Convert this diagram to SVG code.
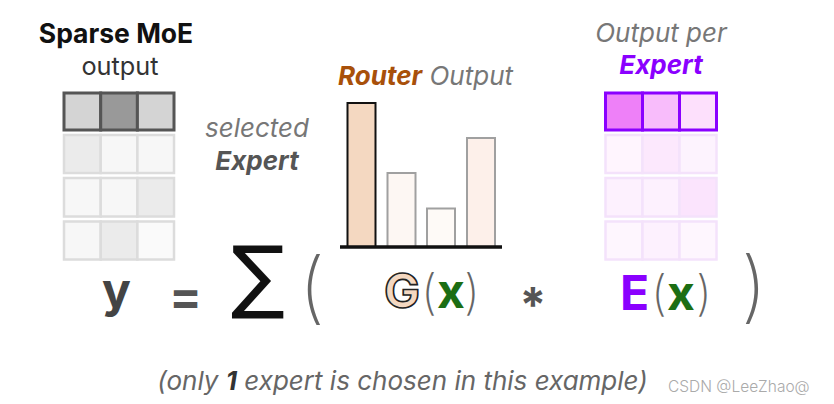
<svg xmlns="http://www.w3.org/2000/svg" width="834" height="404" viewBox="0 0 834 404">
<style>
text{font-family:Inter,"Noto Sans","DejaVu Sans",sans-serif}
.it{font-style:italic}
.b{font-weight:700}
.lc{stroke:#555;stroke-width:3}
.lr{stroke:#dcdcdc;stroke-width:2.5}
.rc{stroke:#8a00ff;stroke-width:3}
.rr{stroke:#f4e2fb;stroke-width:2.5}
.eq{font-size:48px;font-weight:700}
.par{font-weight:200;fill:#666}
</style>
<rect width="834" height="404" fill="#fff"/>
<g id="sparse-moe-output">
<text x="116" y="43" text-anchor="middle" class="b" font-size="26.5" fill="#111">Sparse MoE</text>
<text x="120" y="75" text-anchor="middle" font-size="25.3" fill="#333">output</text>
<g class="lr">
<rect x="64" y="135" width="36.7" height="38" fill="#ebebeb"/>
<rect x="100.7" y="135" width="36.7" height="38" fill="#f7f7f7"/>
<rect x="137.4" y="135" width="36.6" height="38" fill="#f7f7f7"/>
<rect x="64" y="178" width="36.7" height="38.5" fill="#f7f7f7"/>
<rect x="100.7" y="178" width="36.7" height="38.5" fill="#f7f7f7"/>
<rect x="137.4" y="178" width="36.6" height="38.5" fill="#ebebeb"/>
<rect x="64" y="221.5" width="36.7" height="38" fill="#f7f7f7"/>
<rect x="100.7" y="221.5" width="36.7" height="38" fill="#ebebeb"/>
<rect x="137.4" y="221.5" width="36.6" height="38" fill="#fafafa"/>
</g>
<g class="lc">
<rect x="64" y="93" width="36.7" height="37" fill="#d4d4d4"/>
<rect x="100.7" y="93" width="36.7" height="37" fill="#999"/>
<rect x="137.4" y="93" width="36.6" height="37" fill="#d4d4d4"/>
</g>
</g>
<g id="selected-expert">
<text x="257" y="137" text-anchor="middle" class="it" font-size="26" fill="#777">selected</text>
<text x="257" y="170" text-anchor="middle" class="it b" font-size="26" fill="#555">Expert</text>
</g>
<g id="router-output">
<text x="338" y="85" font-size="26" class="it"><tspan class="b" fill="#a8500a">Router</tspan><tspan fill="#777"> Output</tspan></text>
<rect x="347.5" y="103" width="28" height="144" fill="#f4d8c1" stroke="#111" stroke-width="2"/>
<rect x="387.5" y="173" width="28" height="74" fill="#fdf7f3" stroke="#a0a0a0" stroke-width="2"/>
<rect x="427" y="208.5" width="28" height="38.5" fill="#fefaf7" stroke="#a0a0a0" stroke-width="2"/>
<rect x="467" y="138" width="28" height="109" fill="#fdf0ea" stroke="#a0a0a0" stroke-width="2"/>
<line x1="340" y1="247" x2="502" y2="247" stroke="#111" stroke-width="3.5"/>
</g>
<g id="output-per-expert">
<text x="661" y="42" text-anchor="middle" class="it" font-size="26" fill="#777">Output per</text>
<text x="661" y="74" text-anchor="middle" class="it b" font-size="26" fill="#8a00ff">Expert</text>
<g class="rr">
<rect x="605.5" y="135" width="37" height="38" fill="#fff5fe"/>
<rect x="642.5" y="135" width="37" height="38" fill="#fce8fd"/>
<rect x="679.5" y="135" width="37" height="38" fill="#fdf3fe"/>
<rect x="605.5" y="178" width="37" height="38.5" fill="#fdf1fe"/>
<rect x="642.5" y="178" width="37" height="38.5" fill="#fdf1fe"/>
<rect x="679.5" y="178" width="37" height="38.5" fill="#fbe4fd"/>
<rect x="605.5" y="221.5" width="37" height="38" fill="#fef6fe"/>
<rect x="642.5" y="221.5" width="37" height="38" fill="#fdf1fe"/>
<rect x="679.5" y="221.5" width="37" height="38" fill="#fef6fe"/>
</g>
<g class="rc">
<rect x="605.5" y="93" width="37" height="37" fill="#ee80f8"/>
<rect x="642.5" y="93" width="37" height="37" fill="#f8bcfb"/>
<rect x="679.5" y="93" width="37" height="37" fill="#fde0fc"/>
</g>
</g>
<g id="equation">
<text x="102" y="307" class="eq" fill="#444">y</text>
<text x="185.5" y="313" text-anchor="middle" class="eq" fill="#555">=</text>
<text x="231" y="303" font-size="80" fill="#111" style="font-family:'DejaVu Sans',sans-serif">∑</text>
<text x="299" y="314" font-size="78" class="par">(</text>
<text x="384" y="308" class="eq" fill="#f4d8c1" stroke="#222" stroke-width="1.6">G</text>
<text x="421" y="309" font-size="48" class="par">(</text>
<text x="437" y="308" class="eq" fill="#1c6e14">x</text>
<text x="464" y="309" font-size="48" class="par">)</text>
<text x="533" y="322" text-anchor="middle" class="eq" fill="#555">*</text>
<text x="620" y="310" class="eq" fill="#8a00ff">E</text>
<text x="651" y="310" font-size="48" class="par">(</text>
<text x="667" y="310" class="eq" fill="#1c6e14">x</text>
<text x="696" y="310" font-size="48" class="par">)</text>
<text x="741" y="313" font-size="78" class="par">)</text>
</g>
<g id="caption">
<text x="402.5" y="390" text-anchor="middle" class="it" font-size="26" fill="#666">(only <tspan class="b" fill="#333">1</tspan> expert is chosen in this example)</text>
<text x="668" y="392" font-size="15.5" fill="#aaa" font-weight="300">CSDN @LeeZhao@</text>
</g>
</svg>
